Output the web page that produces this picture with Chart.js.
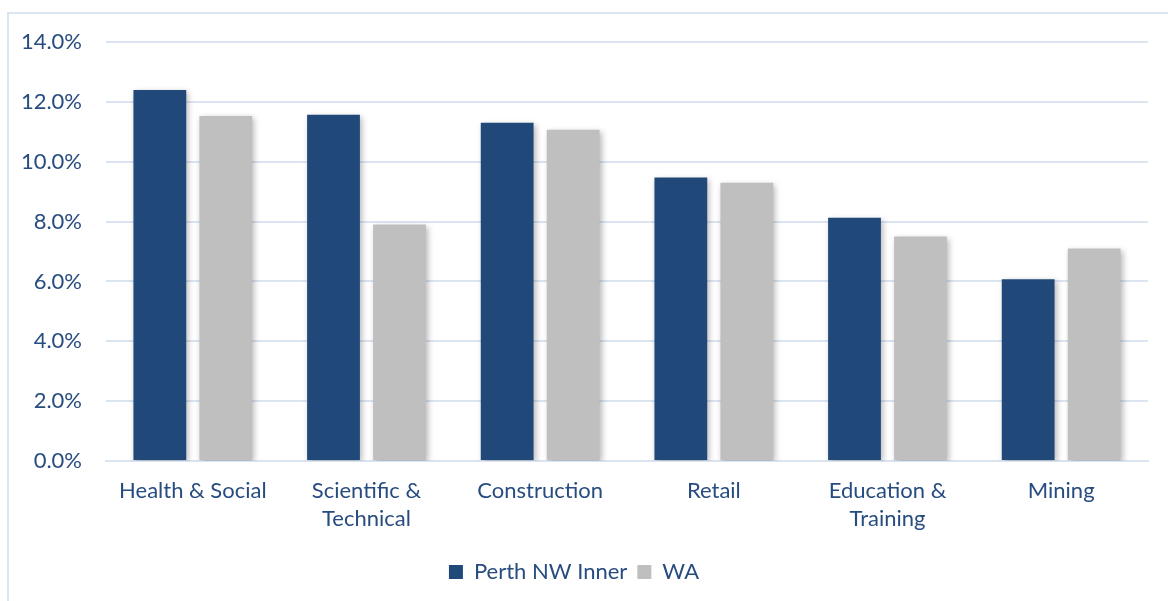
<!DOCTYPE html>
<html lang="en">
<head>
    <meta charset="UTF-8">
    <title>Industry Share of Employment</title>
    <script src="https://cdn.jsdelivr.net/npm/chart.js"></script>
    <style>
        body {
            margin: 0;
            background: #ffffff;
            overflow: hidden;
        }
        .frame {
            position: absolute;
            left: 7px;
            top: 12px;
            width: 1200px;
            height: 700px;
            border: 2px solid #dbe5f2;
        }
        .wrap {
            position: absolute;
            left: 0;
            top: 0;
            width: 1168px;
            height: 601px;
        }
    </style>
</head>
<body>

    <div class="frame"></div>
    <div class="wrap">
        <canvas id="chart1"></canvas>
    </div>

    <script>
        // Datos
        const categories = [
            'Health & Social',
            ['Scientific &', 'Technical'],
            'Construction',
            'Retail',
            ['Education &', 'Training'],
            'Mining'
        ];
        const perthValues = [12.4, 11.57, 11.3, 9.47, 8.13, 6.07];
        const waValues = [11.53, 7.9, 11.07, 9.3, 7.5, 7.1];
        const seriesNames = ['Perth NW Inner', 'WA'];

        const textColor = '#274c7f';
        const gridColor = '#dbe5f2';

        // sombra suave detras de las barras
        const barShadow = {
            id: 'barShadow',
            beforeDatasetsDraw(chart) {
                const ctx = chart.ctx;
                ctx.save();
                ctx.shadowColor = 'rgba(0, 0, 0, 0.28)';
                ctx.shadowBlur = 6;
                ctx.shadowOffsetX = 2;
                ctx.shadowOffsetY = 2;
            },
            afterDatasetsDraw(chart) {
                chart.ctx.restore();
            }
        };

        const ctx = document.getElementById('chart1').getContext('2d');
        const chart1 = new Chart(ctx, {
            type: 'bar',
            data: {
                labels: categories,
                datasets: [
                    {
                        label: seriesNames[0],
                        data: perthValues,
                        backgroundColor: '#204879',
                        categoryPercentage: 0.76,
                        barPercentage: 0.8
                    },
                    {
                        label: seriesNames[1],
                        data: waValues,
                        backgroundColor: '#bfbfbf',
                        categoryPercentage: 0.76,
                        barPercentage: 0.8
                    }
                ]
            },
            options: {
                responsive: true,
                maintainAspectRatio: false,
                animation: false,
                layout: {
                    padding: { left: 0, right: 20, top: 42, bottom: 8 }
                },
                font: { family: 'Lato, "Open Sans", sans-serif' },
                plugins: {
                    legend: {
                        position: 'bottom',
                        labels: {
                            color: textColor,
                            font: { family: 'Lato', size: 22 },
                            boxWidth: 14,
                            boxHeight: 14,
                            padding: 10
                        }
                    },
                    tooltip: { enabled: false }
                },
                scales: {
                    x: {
                        grid: { display: false, drawTicks: false },
                        border: { color: gridColor, width: 2 },
                        ticks: {
                            color: textColor,
                            font: { family: 'Lato', size: 22, lineHeight: 1.28 },
                            padding: 16,
                            maxRotation: 0,
                            autoSkip: false
                        },
                        afterFit(scale) {
                            scale.height = 90;
                        }
                    },
                    y: {
                        min: 0,
                        max: 14,
                        grid: { color: gridColor, lineWidth: 2, drawTicks: false },
                        border: { display: false },
                        ticks: {
                            stepSize: 2,
                            color: textColor,
                            font: { family: 'Lato', size: 22 },
                            padding: 24,
                            callback: v => v.toFixed(1) + '%'
                        },
                        afterFit(scale) {
                            scale.width = 106;
                        }
                    }
                }
            },
            plugins: [barShadow]
        });
    </script>
</body>
</html>
